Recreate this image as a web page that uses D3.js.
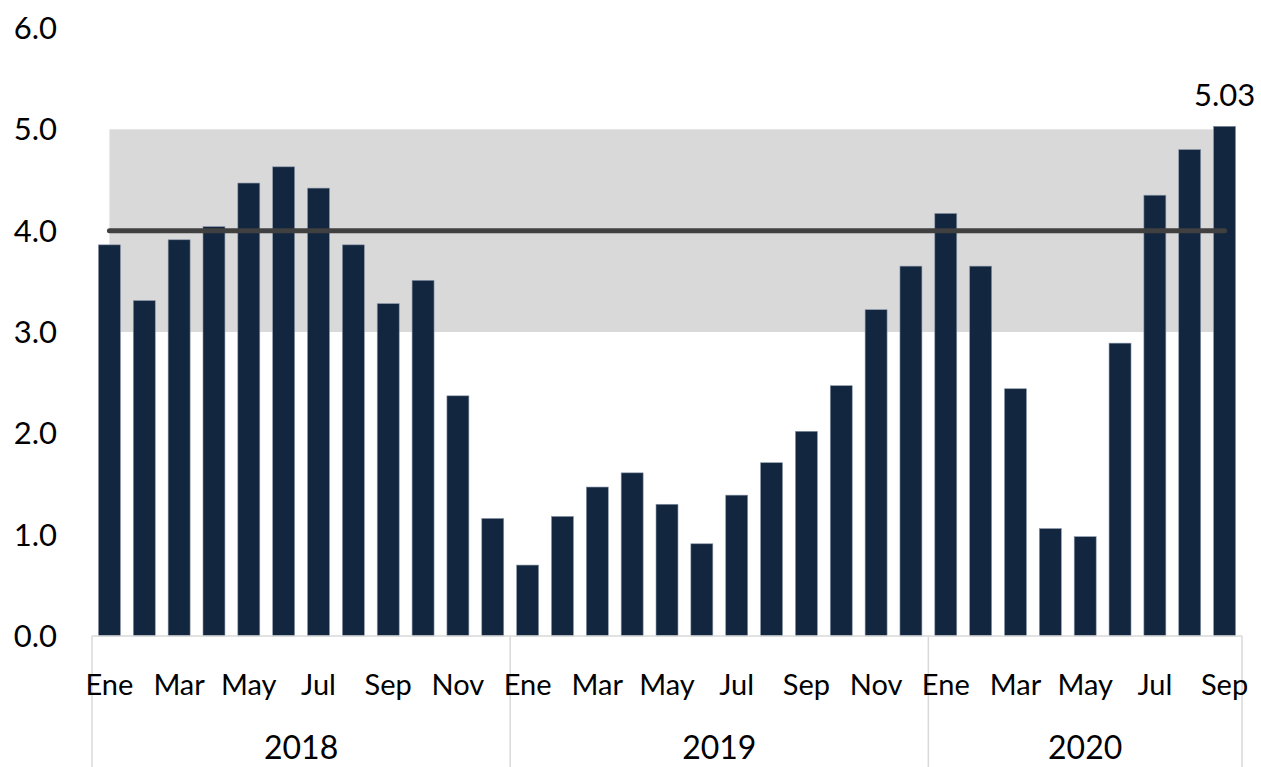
<!doctype html>
<html>
<head>
<meta charset="utf-8">
<style>
  body { margin: 0; background: #fff; }
  text { font-family: Lato, "Open Sans", sans-serif; fill: #000; }
</style>
<script src="https://d3js.org/d3.v7.min.js"></script>
</head>
<body>
<svg width="1261" height="767"></svg>
<script>
// monthly values, Jan 2018 - Sep 2020
var years = ["2018", "2019", "2020"];
var monthNames = ["Ene", "Feb", "Mar", "Abr", "May", "Jun", "Jul", "Ago", "Sep", "Oct", "Nov", "Dic"];
var monthsPerYear = [12, 12, 9];
var values = [
  3.86, 3.31, 3.91, 4.04, 4.47, 4.63, 4.42, 3.86, 3.28, 3.51, 2.37, 1.16,
  0.70, 1.18, 1.47, 1.61, 1.30, 0.91, 1.39, 1.71, 2.02, 2.47, 3.22, 3.65,
  4.17, 3.65, 2.44, 1.06, 0.98, 2.89, 4.35, 4.80, 5.03
];
var yTicks = [0, 1, 2, 3, 4, 5, 6];
var bandRange = [3, 5];   // shaded target range
var target = 4;
var lastLabel = "5.03";

// build the category list
var cats = [];
years.forEach(function(y, yi) {
  for (var m = 0; m < monthsPerYear[yi]; m++) {
    cats.push({ key: y + "-" + m, year: y, month: m, value: values[cats.length] });
  }
});

var svg = d3.select("svg");
var plotLeft = 92, plotRight = 1242, plotTop = 28, plotBottom = 636;

var x = d3.scaleBand()
  .domain(cats.map(function(d) { return d.key; }))
  .range([plotLeft, plotRight])
  .paddingInner(0.37)
  .paddingOuter(0.185);

var y = d3.scaleLinear().domain([0, 6]).range([plotBottom, plotTop]);

var firstC = x(cats[0].key) + x.bandwidth() / 2;
var lastC = x(cats[cats.length - 1].key) + x.bandwidth() / 2;

// shaded band
svg.append("rect")
  .attr("x", firstC)
  .attr("y", y(bandRange[1]))
  .attr("width", lastC - firstC)
  .attr("height", y(bandRange[0]) - y(bandRange[1]))
  .attr("fill", "#d9d9d9");

// bars
svg.selectAll(".bar")
  .data(cats)
  .enter().append("rect")
  .attr("class", "bar")
  .attr("x", function(d) { return x(d.key); })
  .attr("y", function(d) { return y(d.value); })
  .attr("width", x.bandwidth())
  .attr("height", function(d) { return y(0) - y(d.value); })
  .attr("fill", "#12263f")
  .attr("stroke", "#8a96a8")
  .attr("stroke-width", 0.6);

// target line
svg.append("line")
  .attr("x1", firstC).attr("x2", lastC)
  .attr("y1", y(target)).attr("y2", y(target))
  .attr("stroke", "#404040")
  .attr("stroke-width", 5)
  .attr("stroke-linecap", "round");

// y tick labels
svg.selectAll(".ytick")
  .data(yTicks)
  .enter().append("text")
  .attr("class", "ytick")
  .attr("x", 57)
  .attr("y", function(d) { return y(d); })
  .attr("dy", "0.36em")
  .attr("text-anchor", "end")
  .attr("font-size", 31)
  .text(function(d) { return d3.format(".1f")(d); });

// x axis line
svg.append("line")
  .attr("x1", plotLeft).attr("x2", plotRight)
  .attr("y1", plotBottom).attr("y2", plotBottom)
  .attr("stroke", "#d9d9d9")
  .attr("stroke-width", 1.5);

// year separators
var seps = [0];
var acc = 0;
monthsPerYear.forEach(function(n) { acc += n; seps.push(acc); });
svg.selectAll(".sep")
  .data(seps)
  .enter().append("line")
  .attr("class", "sep")
  .attr("x1", function(i) { return plotLeft + i * x.step(); })
  .attr("x2", function(i) { return plotLeft + i * x.step(); })
  .attr("y1", plotBottom).attr("y2", 767)
  .attr("stroke", "#d9d9d9")
  .attr("stroke-width", 1.5);

// month labels (every other month)
svg.selectAll(".mlab")
  .data(cats.filter(function(d) { return d.month % 2 === 0; }))
  .enter().append("text")
  .attr("class", "mlab")
  .attr("x", function(d) { return x(d.key) + x.bandwidth() / 2; })
  .attr("y", 695)
  .attr("text-anchor", "middle")
  .attr("font-size", 29)
  .text(function(d) { return monthNames[d.month]; });

// year labels
svg.selectAll(".ylab")
  .data(years)
  .enter().append("text")
  .attr("class", "ylab")
  .attr("x", function(d, i) { return plotLeft + (seps[i] + seps[i + 1]) / 2 * x.step(); })
  .attr("y", 759)
  .attr("text-anchor", "middle")
  .attr("font-size", 32)
  .text(function(d) { return d; });

// value label on last bar
var last = cats[cats.length - 1];
svg.append("text")
  .attr("x", lastC)
  .attr("y", y(last.value) - 20)
  .attr("text-anchor", "middle")
  .attr("font-size", 31)
  .text(lastLabel);
</script>
</body>
</html>
